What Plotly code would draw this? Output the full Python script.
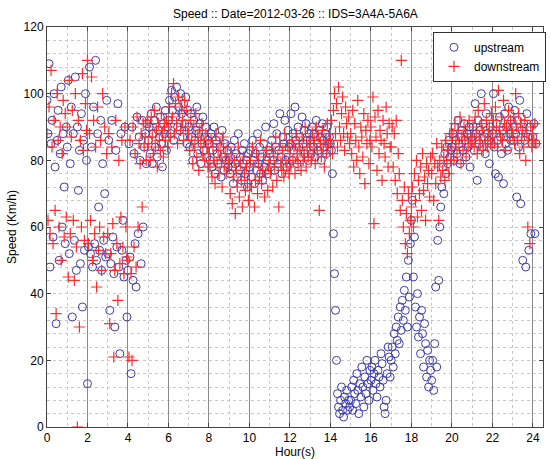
import plotly.graph_objects as go

SAMPLE_MIN = 3  # minutes between samples

# Upstream speed (km/h), one row per hour (20 samples per hour)
up_speed = [
    98, 88, 109, 48, 85, 92, 57, 100, 78, 31, 86, 95, 50, 82, 102, 60, 88, 72, 55, 90,
    84, 104, 52, 79, 96, 33, 88, 56, 105, 47, 90, 71, 83, 49, 94, 36, 86, 53, 100, 80,
    13, 54, 108, 52, 84, 48, 96, 55, 110, 50, 88, 66, 53, 92, 47, 79, 56, 70, 51, 98,
    52, 86, 35, 49, 92, 57, 46, 30, 83, 54, 97, 48, 22, 88, 53, 62, 45, 90, 50, 33,
    47, 85, 51, 16, 90, 44, 82, 55, 42, 93, 58, 87, 80, 49, 92, 60, 84, 88, 79, 91,
    86, 90, 82, 94, 79, 88, 92, 84, 96, 81, 89, 87, 93, 85, 78, 91, 88, 95, 83, 90,
    92, 98, 88, 101, 95, 86, 99, 93, 102, 90, 96, 89, 100, 94, 87, 97, 91, 99, 85, 95,
    90, 84, 94, 87, 80, 92, 86, 89, 96, 82, 88, 91, 79, 85, 93, 83, 87, 90, 81, 86,
    85, 80, 88, 78, 83, 90, 76, 86, 82, 79, 87, 84, 75, 89, 81, 77, 85, 80, 83, 78,
    80, 76, 84, 78, 73, 86, 79, 82, 75, 88, 77, 81, 74, 83, 79, 85, 76, 80, 72, 82,
    78, 83, 75, 86, 80, 73, 82, 77, 88, 79, 84, 76, 81, 74, 85, 78, 90, 80, 76, 83,
    82, 78, 86, 80, 91, 77, 84, 88, 79, 83, 94, 81, 76, 87, 85, 92, 80, 78, 89, 84,
    85, 94, 80, 88, 83, 96, 86, 79, 90, 84, 87, 81, 93, 85, 89, 82, 91, 86, 80, 88,
    86, 82, 90, 84, 88, 81, 92, 85, 83, 89, 87, 80, 91, 86, 84, 88, 82, 90, 85, 87,
    85, 83, 76, 58, 46, 35, 20, 10, 6, 4, 8, 12, 5, 3, 9, 7, 11, 5, 8, 6,
    8, 12, 5, 14, 10, 7, 16, 11, 4, 13, 9, 18, 12, 6, 15, 10, 20, 13, 8, 17,
    14, 18, 11, 16, 20, 13, 9, 17, 15, 12, 22, 19, 14, 6, 4, 8, 16, 24, 21, 15,
    20, 24, 18, 28, 22, 30, 26, 33, 25, 36, 29, 38, 32, 41, 35, 45, 30, 50, 39, 55,
    62, 68, 45, 57, 36, 30, 40, 27, 33, 22, 35, 28, 18, 31, 25, 15, 23, 12, 20, 17,
    14, 20, 11, 25, 42, 18, 56, 44, 60, 66, 72, 78, 70, 82, 76, 84, 79, 86, 81, 83,
    84, 88, 80, 90, 86, 82, 92, 85, 79, 87, 89, 83, 91, 86, 81, 88, 84, 90, 78, 87,
    86, 90, 83, 97, 88, 74, 92, 85, 89, 100, 84, 91, 87, 82, 94, 88, 86, 79, 90, 85,
    88, 100, 84, 76, 91, 86, 75, 93, 87, 82, 89, 73, 94, 85, 90, 83, 96, 88, 86, 92,
    90, 86, 95, 88, 69, 92, 84, 98, 67, 89, 50, 91, 86, 48, 94, 87, 53, 90, 58, 85,
    87, 91, 58, 85,
]

# Downstream speed (km/h), one row per hour (20 samples per hour)
down_speed = [
    88, 62, 96, 58, 107, 84, 55, 92, 65, 34, 100, 86, 60, 90, 50, 82, 98, 57, 94, 63,
    90, 45, 104, 58, 87, 95, 62, 44, 100, 54, 0, 92, 30, 86, 60, 106, 83, 56, 97, 89,
    110, 55, 88, 62, 105, 50, 92, 58, 84, 42, 96, 53, 60, 86, 47, 100, 57, 90, 52, 82,
    58, 88, 31, 52, 84, 61, 21, 47, 92, 55, 38, 80, 49, 63, 86, 54, 46, 90, 60, 51,
    50, 21, 86, 46, 20, 90, 54, 82, 48, 93, 60, 85, 79, 88, 66, 91, 84, 87, 80, 92,
    85, 90, 80, 93, 87, 82, 95, 84, 89, 78, 91, 86, 83, 94, 88, 81, 90, 86, 92, 84,
    90, 96, 87, 100, 93, 103, 88, 97, 91, 85, 99, 94, 89, 96, 92, 86, 98, 90, 95, 88,
    88, 83, 92, 86, 79, 90, 84, 94, 81, 87, 77, 89, 85, 91, 82, 86, 80, 88, 84, 78,
    82, 78, 86, 75, 84, 80, 73, 88, 79, 83, 76, 85, 81, 72, 87, 78, 82, 76, 84, 80,
    78, 70, 82, 67, 75, 80, 64, 77, 72, 84, 69, 79, 74, 66, 81, 76, 71, 78, 73, 68,
    76, 80, 72, 84, 78, 66, 74, 82, 70, 79, 75, 86, 73, 77, 81, 69, 76, 83, 71, 78,
    80, 76, 84, 72, 82, 78, 87, 74, 81, 66, 85, 79, 77, 83, 75, 88, 80, 78, 84, 76,
    82, 78, 86, 80, 84, 76, 88, 81, 79, 85, 83, 77, 87, 80, 82, 90, 78, 84, 81, 86,
    84, 80, 88, 82, 86, 79, 90, 83, 87, 65, 85, 81, 89, 84, 78, 86, 82, 91, 85, 88,
    86, 92, 82, 95, 100, 88, 97, 84, 102, 90, 86, 94, 99, 88, 83, 96, 91, 87, 93, 85,
    88, 82, 95, 78, 91, 86, 80, 98, 84, 76, 90, 87, 81, 94, 73, 89, 85, 92, 79, 86,
    90, 84, 99, 61, 93, 87, 77, 95, 82, 89, 86, 74, 92, 85, 81, 96, 88, 78, 91, 84,
    84, 90, 78, 88, 74, 92, 70, 82, 76, 65, 110, 68, 60, 72, 55, 64, 52, 70, 58, 62,
    66, 72, 60, 76, 68, 80, 63, 74, 70, 78, 65, 82, 71, 75, 62, 79, 73, 77, 69, 81,
    76, 82, 68, 79, 73, 85, 78, 62, 80, 75, 84, 77, 81, 74, 86, 79, 83, 76, 88, 80,
    84, 88, 80, 91, 86, 82, 89, 85, 93, 79, 87, 83, 90, 86, 81, 88, 84, 92, 85, 87,
    86, 90, 84, 93, 88, 82, 95, 87, 85, 91, 89, 83, 97, 86, 92, 84, 88, 90, 85, 94,
    88, 92, 85, 96, 90, 84, 101, 89, 87, 93, 86, 98, 91, 83, 90, 88, 95, 86, 92, 89,
    88, 93, 85, 100, 90, 86, 94, 82, 91, 87, 89, 84, 92, 80, 88, 60, 86, 55, 90, 84,
    88, 86, 91, 85,
]

x_ticks = [0, 2, 4, 6, 8, 10, 12, 14, 16, 18, 20, 22, 24]
y_ticks = [0, 20, 40, 60, 80, 100, 120]

title_text = "Speed :: Date=2012-03-26 :: IDS=3A4A-5A6A"
x_label = "Hour(s)"
y_label = "Speed (Km/h)"

up_hour = [i * SAMPLE_MIN / 60 for i in range(len(up_speed))]
down_hour = [i * SAMPLE_MIN / 60 for i in range(len(down_speed))]

FONT = "Arial, Liberation Sans, sans-serif"

fig = go.Figure()
fig.add_trace(go.Scatter(
    x=up_hour, y=up_speed, mode="markers", name="upstream",
    marker=dict(symbol="circle-open", size=8, color="#3b3bb0", line=dict(width=1)),
))
fig.add_trace(go.Scatter(
    x=down_hour, y=down_speed, mode="markers", name="downstream",
    marker=dict(symbol="cross-thin-open", size=8, color="#ff2a2a", line=dict(width=1.2, color="#ff2a2a")),
))

fig.update_layout(
    width=551, height=459,
    margin=dict(l=47, r=8, t=27, b=32, autoexpand=False),
    paper_bgcolor="white", plot_bgcolor="white",
    font=dict(family=FONT, size=12, color="black"),
    showlegend=True,
    legend=dict(
        x=1.006, y=0.988, xanchor="right", yanchor="top",
        bgcolor="white", bordercolor="#333", borderwidth=1,
        font=dict(family=FONT, size=12, color="black"),
        tracegroupgap=0, itemsizing="trace",
        itemwidth=30,
    ),
    xaxis=dict(
        range=[0, 24.5], tickvals=x_ticks, ticktext=[str(v) for v in x_ticks],
        showline=True, linecolor="#444", linewidth=1, mirror="ticks",
        ticks="inside", ticklen=4, tickcolor="#444",
        showgrid=True, gridcolor="#8a8a8a", gridwidth=1.3,
        zeroline=False,
        minor=dict(dtick=1, showgrid=True, gridcolor="#c8c8c8", griddash="dot", gridwidth=1),
        tickfont=dict(size=12),
    ),
    yaxis=dict(
        range=[0, 120], tickvals=y_ticks, ticktext=[str(v) for v in y_ticks],
        showline=True, linecolor="#444", linewidth=1, mirror="ticks",
        ticks="inside", ticklen=4, tickcolor="#444",
        showgrid=True, gridcolor="#c8c8c8", griddash="dot", gridwidth=1,
        zeroline=False,
        minor=dict(dtick=4, showgrid=True, gridcolor="#c8c8c8", griddash="dot", gridwidth=1),
        tickfont=dict(size=12),
    ),
    annotations=[
        dict(text=title_text, xref="paper", yref="paper", x=0.5, y=1.0, yshift=13,
             showarrow=False, xanchor="center", yanchor="middle", font=dict(size=12)),
        dict(text=x_label, xref="paper", yref="paper", x=0.5, y=0, yshift=-25,
             showarrow=False, xanchor="center", yanchor="middle", font=dict(size=12)),
        dict(text=y_label, xref="paper", yref="paper", x=0, xshift=-35, y=0.5,
             showarrow=False, xanchor="center", yanchor="middle", textangle=-90,
             font=dict(size=12)),
    ],
)

fig.write_html("out.html")
